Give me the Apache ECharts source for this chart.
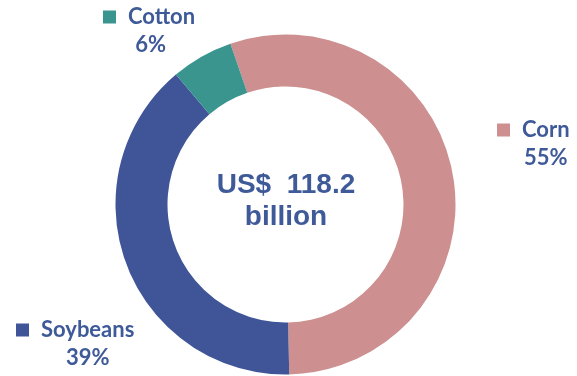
<!DOCTYPE html>
<html>
<head>
<meta charset="utf-8">
<style>
  html, body { margin: 0; padding: 0; background: #ffffff; }
  #chart { width: 577px; height: 376px; }
</style>
<script src="https://cdn.jsdelivr.net/npm/echarts@6/dist/echarts.min.js"></script>
</head>
<body>
<div id="chart"></div>
<script>
// ---- data ----
const categories = ['Corn', 'Soybeans', 'Cotton'];
const shares = [54.9, 39.2, 5.9];            // percent of total
const colors = ['#CD8F8F', '#3F5598', '#3A958F'];
const totalLabel = ['US$  118.2', 'billion'];

const textColor = '#3F5A99';
const labelFont = 'Lato';
const labelSize = 22;
const lineH = 28;

// label layout: top-left of each label block, and horizontal shift of the percent line
const labelPos = { Corn: [497, 116], Soybeans: [16, 316], Cotton: [103, 3] };
const pctShift = { Corn: 0, Soybeans: 0, Cotton: -11 };

const ctx = document.createElement('canvas').getContext('2d');
ctx.font = 'bold ' + labelSize + 'px ' + labelFont;
const pctText = i => Math.round(shares[i] / shares.reduce((a, b) => a + b, 0) * 100) + '%';

const rich = {
  name: { fontFamily: labelFont, fontWeight: 'bold', fontSize: labelSize, color: textColor, lineHeight: lineH }
};
categories.forEach((c, i) => {
  const nameW = ctx.measureText(c).width;
  const pctW = ctx.measureText(pctText(i)).width;
  rich['box' + i] = { width: 13, height: 13, backgroundColor: colors[i] };
  rich['gap' + i] = { width: 12, height: 13 };
  rich['sp' + i] = { width: Math.max(0, 25 + (nameW - pctW) / 2 + pctShift[c]), height: 13 };
  rich['pct' + i] = { fontFamily: labelFont, fontWeight: 'bold', fontSize: labelSize, color: textColor, lineHeight: lineH };
});

const chart = echarts.init(document.getElementById('chart'), null, { renderer: 'canvas' });
chart.setOption({
  backgroundColor: '#ffffff',
  animation: false,
  series: [{
    type: 'pie',
    center: [285.5, 204.5],
    radius: [118, 170],
    startAngle: 108.9,
    clockwise: true,
    silent: true,
    itemStyle: { borderWidth: 0 },
    labelLine: { show: false },
    label: {
      show: true,
      position: 'outside',
      align: 'left',
      overflow: 'none',
      edgeDistance: 0,
      bleedMargin: 0,
      formatter: p => {
        const i = p.dataIndex;
        return '{box' + i + '|}{gap' + i + '|}{name|' + p.name + '}\n{sp' + i + '|}{pct' + i + '|' + Math.round(p.percent) + '%}';
      },
      rich: rich
    },
    labelLayout: p => {
      const name = categories[p.dataIndex];
      return { x: labelPos[name][0], y: labelPos[name][1], align: 'left', verticalAlign: 'top', moveOverlap: null, hideOverlap: false };
    },
    data: categories.map((c, i) => ({ name: c, value: shares[i], itemStyle: { color: colors[i] } }))
  }],
  graphic: [{
    type: 'text',
    x: 286,
    y: 169,
    style: {
      text: totalLabel.join('\n'),
      fontFamily: 'Liberation Sans',
      fontWeight: 'bold',
      fontSize: 28,
      lineHeight: 32,
      fill: textColor,
      align: 'center',
      verticalAlign: 'top'
    }
  }]
});
</script>
</body>
</html>
